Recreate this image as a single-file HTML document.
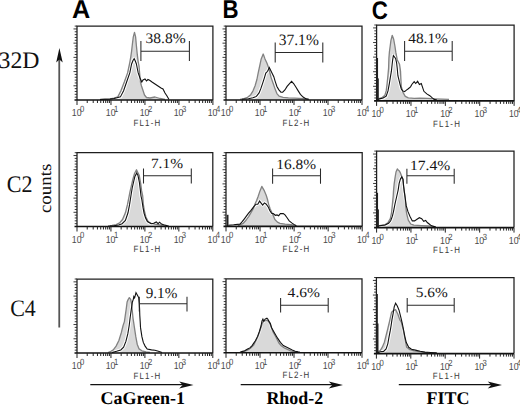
<!DOCTYPE html>
<html><head><meta charset="utf-8"><style>
html,body{margin:0;padding:0;background:#fff;width:520px;height:405px;overflow:hidden}
svg{display:block}
text{text-rendering:geometricPrecision}
.pct{font-family:"Liberation Serif",serif;fill:#151515}
.tl{font-family:"Liberation Sans",sans-serif;font-size:10.2px;fill:#4a4a4a}
.sup{font-size:9px}
.fl{font-family:"Liberation Sans",sans-serif;font-size:9.2px;fill:#3a3a3a;letter-spacing:1.42px}
.hd{font-family:"Liberation Sans",sans-serif;font-weight:bold;fill:#000}
.rl{font-family:"Liberation Serif",serif;fill:#111}
.bl{font-family:"Liberation Serif",serif;font-weight:bold;fill:#000}
</style></head><body>
<svg width="520" height="405" viewBox="0 0 520 405">
<text transform="translate(71.96,17.81) scale(0.976,1.000)" class="hd" style="font-size:25.87px">A</text>
<text transform="translate(222.43,17.81) scale(0.858,1.000)" class="hd" style="font-size:25.87px">B</text>
<text transform="translate(371.64,18.59) scale(0.877,1.000)" class="hd" style="font-size:25.42px">C</text>
<text transform="translate(-1.43,67.79) scale(1.025,1.019)" class="rl" style="font-size:23.22px">32D</text>
<text transform="translate(6.73,191.85) scale(0.927,0.998)" class="rl" style="font-size:23.81px">C2</text>
<text transform="translate(10.23,315.88) scale(0.922,0.990)" class="rl" style="font-size:23.81px">C4</text>
<text transform="translate(100.46,403.95) scale(1.004,1.000)" class="bl" style="font-size:17.90px">CaGreen-1</text>
<text transform="translate(266.42,403.95) scale(1.000,1.000)" class="bl" style="font-size:17.90px">Rhod-2</text>
<text transform="translate(426.58,403.95) scale(1.006,1.000)" class="bl" style="font-size:17.90px">FITC</text>
<text transform="translate(50.97,213.05) rotate(-90) scale(1.03,0.95)" class="rl" style="font-size:18.33px">counts</text>
<path d="M59.25 58V327.6" stroke="#555" stroke-width="1.8"/>
<path d="M59.4 48L56.2 62.5L59.4 59.6L62.7 62.5Z" fill="#111"/>
<path d="M90.3 384.6H188" stroke="#111" stroke-width="1.4"/>
<path d="M193.5 385L179.2 381.4L182.7 385L179.2 388.6Z" fill="#111"/>
<path d="M240.7 384.6H338" stroke="#111" stroke-width="1.4"/>
<path d="M343 385L328.7 381.4L332.2 385L328.7 388.6Z" fill="#111"/>
<path d="M398.8 384.6H497" stroke="#111" stroke-width="1.4"/>
<path d="M502 385L487.7 381.4L491.2 385L487.7 388.6Z" fill="#111"/>
<polygon points="100,100 100,99.5 110,99 114,98.2 117.8,96.9 120.9,90.7 124.4,81.8 127.6,72.9 129.5,64 130.7,57.3 131.6,51.1 132.4,44 133.3,36.9 134.5,32.4 135.6,36.9 136.4,45.8 137.3,54.7 138.2,61.8 139,66 139.6,72.9 140.4,81.8 141.5,86 143.1,90.7 144.5,95 146.5,97.5 150,98 155,97 160,98.5 165,99.5 165,100" fill="#d9d9d9" stroke="none"/>
<polyline points="100,99.5 110,99 114,98.5 117,97.8 120.4,96.9 123.6,90.7 126.7,81.8 129.8,72.9 131.6,64 133,60.5 134.2,58.7 135.3,61 136.4,64 137.3,68.5 138.2,72.9 140,78 141.8,82 143,80 145,79 146.5,81 148,79.5 150,80.5 152,82 155,84 158,86 161,88 163,89 165,93 167,96 169,99.5" fill="none" stroke="#fff" stroke-width="3.2" stroke-linejoin="round"/>
<polyline points="100,99.5 110,99 114,98.2 117.8,96.9 120.9,90.7 124.4,81.8 127.6,72.9 129.5,64 130.7,57.3 131.6,51.1 132.4,44 133.3,36.9 134.5,32.4 135.6,36.9 136.4,45.8 137.3,54.7 138.2,61.8 139,66 139.6,72.9 140.4,81.8 141.5,86 143.1,90.7 144.5,95 146.5,97.5 150,98 155,97 160,98.5 165,99.5" fill="none" stroke="#828282" stroke-width="1.3" stroke-linejoin="round"/>
<polyline points="100,99.5 110,99 114,98.5 117,97.8 120.4,96.9 123.6,90.7 126.7,81.8 129.8,72.9 131.6,64 133,60.5 134.2,58.7 135.3,61 136.4,64 137.3,68.5 138.2,72.9 140,78 141.8,82 143,80 145,79 146.5,81 148,79.5 150,80.5 152,82 155,84 158,86 161,88 163,89 165,93 167,96 169,99.5" fill="none" stroke="#111" stroke-width="1.1" stroke-linejoin="miter" stroke-miterlimit="3"/>
<path d="M140.9 41V61M140.9 51.2H189.4M189.4 41V61" stroke="#2a2a2a" stroke-width="1.05" fill="none"/>
<text transform="translate(145.46,43.03) scale(1.066,0.997)" class="pct" style="font-size:14.58px">38.8%</text>
<path d="M77 100V26.1H212.9V100" stroke="#1e1e1e" stroke-width="1.25" fill="none"/>
<path d="M74.5 100H212.9" stroke="#111" stroke-width="1.6" fill="none"/>
<path d="M77 100V105M87.23 100V103M93.21 100V103M97.45 100V103M100.75 100V103M103.44 100V103M105.71 100V103M107.68 100V103M109.42 100V103M110.97 100V105M121.2 100V103M127.19 100V103M131.43 100V103M134.72 100V103M137.41 100V103M139.69 100V103M141.66 100V103M143.4 100V103M144.95 100V105M155.18 100V103M161.16 100V103M165.4 100V103M168.7 100V103M171.39 100V103M173.66 100V103M175.63 100V103M177.37 100V103M178.93 100V105M189.15 100V103M195.14 100V103M199.38 100V103M202.67 100V103M205.36 100V103M207.64 100V103M209.61 100V103M211.35 100V103M212.9 100V105" stroke="#222" stroke-width="1" fill="none"/>
<path d="M74.7 97.16H77M74.7 94.32H77M74.7 91.47H77M74.7 88.63H77M73.5 85.79H77M74.7 82.95H77M74.7 80.1H77M74.7 77.26H77M74.7 74.42H77M73.5 71.58H77M74.7 68.73H77M74.7 65.89H77M74.7 63.05H77M74.7 60.21H77M73.5 57.37H77M74.7 54.52H77M74.7 51.68H77M74.7 48.84H77M74.7 46H77M73.5 43.15H77M74.7 40.31H77M74.7 37.47H77M74.7 34.63H77M74.7 31.78H77M73.5 28.94H77M74.7 26.1H77" stroke="#222" stroke-width="0.9" fill="none"/>
<text transform="translate(71.8,116.35) scale(0.86,1)" class="tl">10<tspan dx="-1.8" dy="-4.45" class="sup">0</tspan></text>
<text transform="translate(105.77,116.35) scale(0.86,1)" class="tl">10<tspan dx="-1.8" dy="-4.45" class="sup">1</tspan></text>
<text transform="translate(139.75,116.35) scale(0.86,1)" class="tl">10<tspan dx="-1.8" dy="-4.45" class="sup">2</tspan></text>
<text transform="translate(173.73,116.35) scale(0.86,1)" class="tl">10<tspan dx="-1.8" dy="-4.45" class="sup">3</tspan></text>
<text transform="translate(207.7,116.35) scale(0.86,1)" class="tl">10<tspan dx="-1.8" dy="-4.45" class="sup">4</tspan></text>
<text transform="translate(133.4,125.65) scale(0.86,1)" class="fl">FL1-H</text>
<polygon points="240,100 240,99.3 244,98.7 247.6,97.3 250.7,94.7 252.9,91.1 255.1,85.8 256.9,79.5 258.2,72.8 259.7,66 261.2,58.9 263.2,54 265,58.9 267,63.3 268.9,68.5 271.1,77.6 273.3,83.8 275.1,89.1 276.9,93.6 279.1,96.2 283.1,97.3 288.4,97.8 294.7,98.2 303.6,98.7 308,99.3 308,100" fill="#d9d9d9" stroke="none"/>
<polyline points="242,99.3 248.4,98.7 252.9,97.8 256.4,96.4 259.1,92.9 260.9,88.4 262.7,83.1 264.4,77.8 265.8,73 267.6,71.3 269.3,67.5 271.6,72.2 273.8,76.7 275.1,81.1 276.9,86.4 278.7,89.6 280.9,92.2 282.7,92.2 284.9,90 287.1,86.4 289.3,83.8 291.6,81.3 293.8,83.8 296,87.3 298.2,90.9 300.4,94.4 303.1,97.1 306.2,98.9 309,99.3" fill="none" stroke="#fff" stroke-width="3.2" stroke-linejoin="round"/>
<polyline points="240,99.3 244,98.7 247.6,97.3 250.7,94.7 252.9,91.1 255.1,85.8 256.9,79.5 258.2,72.8 259.7,66 261.2,58.9 263.2,54 265,58.9 267,63.3 268.9,68.5 271.1,77.6 273.3,83.8 275.1,89.1 276.9,93.6 279.1,96.2 283.1,97.3 288.4,97.8 294.7,98.2 303.6,98.7 308,99.3" fill="none" stroke="#828282" stroke-width="1.3" stroke-linejoin="round"/>
<polyline points="242,99.3 248.4,98.7 252.9,97.8 256.4,96.4 259.1,92.9 260.9,88.4 262.7,83.1 264.4,77.8 265.8,73 267.6,71.3 269.3,67.5 271.6,72.2 273.8,76.7 275.1,81.1 276.9,86.4 278.7,89.6 280.9,92.2 282.7,92.2 284.9,90 287.1,86.4 289.3,83.8 291.6,81.3 293.8,83.8 296,87.3 298.2,90.9 300.4,94.4 303.1,97.1 306.2,98.9 309,99.3" fill="none" stroke="#111" stroke-width="1.1" stroke-linejoin="miter" stroke-miterlimit="3"/>
<path d="M275.2 42.4V62.6M275.2 52.5H322.8M322.8 42.4V62.6" stroke="#2a2a2a" stroke-width="1.05" fill="none"/>
<text transform="translate(278.70,44.97) scale(1.025,1.045)" class="pct" style="font-size:15.16px">37.1%</text>
<path d="M226 100V26.1H362V100" stroke="#1e1e1e" stroke-width="1.25" fill="none"/>
<path d="M223.5 100H362" stroke="#111" stroke-width="1.6" fill="none"/>
<path d="M226 100V105M236.24 100V103M242.22 100V103M246.47 100V103M249.76 100V103M252.46 100V103M254.73 100V103M256.71 100V103M258.44 100V103M260 100V105M270.24 100V103M276.22 100V103M280.47 100V103M283.76 100V103M286.46 100V103M288.73 100V103M290.71 100V103M292.44 100V103M294 100V105M304.24 100V103M310.22 100V103M314.47 100V103M317.76 100V103M320.46 100V103M322.73 100V103M324.71 100V103M326.44 100V103M328 100V105M338.24 100V103M344.22 100V103M348.47 100V103M351.76 100V103M354.46 100V103M356.73 100V103M358.71 100V103M360.44 100V103M362 100V105" stroke="#222" stroke-width="1" fill="none"/>
<path d="M223.7 97.16H226M223.7 94.32H226M223.7 91.47H226M223.7 88.63H226M222.5 85.79H226M223.7 82.95H226M223.7 80.1H226M223.7 77.26H226M223.7 74.42H226M222.5 71.58H226M223.7 68.73H226M223.7 65.89H226M223.7 63.05H226M223.7 60.21H226M222.5 57.37H226M223.7 54.52H226M223.7 51.68H226M223.7 48.84H226M223.7 46H226M222.5 43.15H226M223.7 40.31H226M223.7 37.47H226M223.7 34.63H226M223.7 31.78H226M222.5 28.94H226M223.7 26.1H226" stroke="#222" stroke-width="0.9" fill="none"/>
<text transform="translate(220.8,116.35) scale(0.86,1)" class="tl">10<tspan dx="-1.8" dy="-4.45" class="sup">0</tspan></text>
<text transform="translate(254.8,116.35) scale(0.86,1)" class="tl">10<tspan dx="-1.8" dy="-4.45" class="sup">1</tspan></text>
<text transform="translate(288.8,116.35) scale(0.86,1)" class="tl">10<tspan dx="-1.8" dy="-4.45" class="sup">2</tspan></text>
<text transform="translate(322.8,116.35) scale(0.86,1)" class="tl">10<tspan dx="-1.8" dy="-4.45" class="sup">3</tspan></text>
<text transform="translate(356.8,116.35) scale(0.86,1)" class="tl">10<tspan dx="-1.8" dy="-4.45" class="sup">4</tspan></text>
<text transform="translate(282.4,125.65) scale(0.86,1)" class="fl">FL2-H</text>
<polygon points="376.8,100.9 376.8,99.5 379.6,98.4 382.2,97.6 384.9,95.3 386.2,90.9 387.1,83.8 388,74.9 388.6,68 388.9,58.4 389.4,52 390.2,46 390.9,40.7 392.2,35.3 393.6,38.9 394.9,46 395.8,52.2 397.2,59.7 399.5,64.2 400.5,71 400.9,79.4 401.3,86.8 403.1,92.7 405.3,96.4 408.3,97.9 414.2,98.3 420,98.2 428,98.4 434,98.8 442,99.2 449,99.4 449,100.9" fill="#d9d9d9" stroke="none"/>
<polyline points="378,99.5 379.6,98.9 383.1,98 386.2,96.2 388,90.9 389.3,83.8 390.3,77.6 391.4,71.2 392.1,64.8 392.7,59.7 393.4,55.5 395.6,58.4 396.6,62.9 397.2,68 397.9,75.7 399,80.1 400.1,84.6 401.3,89 402.7,90.9 404.6,91.6 406.4,90.1 408.3,88.7 410.5,86.8 412,84.2 414.2,81.6 415.7,83.5 417.6,81.3 419.4,84.6 421.3,83.5 422.4,86.8 423.9,91.3 426.8,93.9 429.8,95.7 432,97.6 434.2,99.4 437,100" fill="none" stroke="#fff" stroke-width="3.2" stroke-linejoin="round"/>
<polyline points="376.8,99.5 379.6,98.4 382.2,97.6 384.9,95.3 386.2,90.9 387.1,83.8 388,74.9 388.6,68 388.9,58.4 389.4,52 390.2,46 390.9,40.7 392.2,35.3 393.6,38.9 394.9,46 395.8,52.2 397.2,59.7 399.5,64.2 400.5,71 400.9,79.4 401.3,86.8 403.1,92.7 405.3,96.4 408.3,97.9 414.2,98.3 420,98.2 428,98.4 434,98.8 442,99.2 449,99.4" fill="none" stroke="#828282" stroke-width="1.3" stroke-linejoin="round"/>
<polyline points="378,99.5 379.6,98.9 383.1,98 386.2,96.2 388,90.9 389.3,83.8 390.3,77.6 391.4,71.2 392.1,64.8 392.7,59.7 393.4,55.5 395.6,58.4 396.6,62.9 397.2,68 397.9,75.7 399,80.1 400.1,84.6 401.3,89 402.7,90.9 404.6,91.6 406.4,90.1 408.3,88.7 410.5,86.8 412,84.2 414.2,81.6 415.7,83.5 417.6,81.3 419.4,84.6 421.3,83.5 422.4,86.8 423.9,91.3 426.8,93.9 429.8,95.7 432,97.6 434.2,99.4 437,100" fill="none" stroke="#111" stroke-width="1.1" stroke-linejoin="miter" stroke-miterlimit="3"/>
<path d="M377.4 58V100.9" stroke="#222" stroke-width="1.3"/>
<path d="M377.8 78.4V100.9" stroke="#222" stroke-width="2.0"/>
<path d="M404.6 41V61.1M404.6 51.2H452.2M452.2 41V61.1" stroke="#2a2a2a" stroke-width="1.05" fill="none"/>
<text transform="translate(408.29,42.88) scale(1.108,1.043)" class="pct" style="font-size:13.84px">48.1%</text>
<path d="M376.6 100.9V25H514.1V100.9" stroke="#1e1e1e" stroke-width="1.25" fill="none"/>
<path d="M374.1 100.9H514.1" stroke="#111" stroke-width="1.6" fill="none"/>
<path d="M376.6 100.9V105.9M386.95 100.9V103.9M393 100.9V103.9M397.3 100.9V103.9M400.63 100.9V103.9M403.35 100.9V103.9M405.65 100.9V103.9M407.64 100.9V103.9M409.4 100.9V103.9M410.98 100.9V105.9M421.32 100.9V103.9M427.38 100.9V103.9M431.67 100.9V103.9M435 100.9V103.9M437.72 100.9V103.9M440.03 100.9V103.9M442.02 100.9V103.9M443.78 100.9V103.9M445.35 100.9V105.9M455.7 100.9V103.9M461.75 100.9V103.9M466.05 100.9V103.9M469.38 100.9V103.9M472.1 100.9V103.9M474.4 100.9V103.9M476.39 100.9V103.9M478.15 100.9V103.9M479.73 100.9V105.9M490.07 100.9V103.9M496.13 100.9V103.9M500.42 100.9V103.9M503.75 100.9V103.9M506.47 100.9V103.9M508.78 100.9V103.9M510.77 100.9V103.9M512.53 100.9V103.9M514.1 100.9V105.9" stroke="#222" stroke-width="1" fill="none"/>
<path d="M374.3 97.98H376.6M374.3 95.06H376.6M374.3 92.14H376.6M374.3 89.22H376.6M373.1 86.3H376.6M374.3 83.38H376.6M374.3 80.47H376.6M374.3 77.55H376.6M374.3 74.63H376.6M373.1 71.71H376.6M374.3 68.79H376.6M374.3 65.87H376.6M374.3 62.95H376.6M374.3 60.03H376.6M373.1 57.11H376.6M374.3 54.19H376.6M374.3 51.27H376.6M374.3 48.35H376.6M374.3 45.43H376.6M373.1 42.52H376.6M374.3 39.6H376.6M374.3 36.68H376.6M374.3 33.76H376.6M374.3 30.84H376.6M373.1 27.92H376.6M374.3 25H376.6" stroke="#222" stroke-width="0.9" fill="none"/>
<text transform="translate(371.4,117.25) scale(0.86,1)" class="tl">10<tspan dx="-1.8" dy="-4.45" class="sup">0</tspan></text>
<text transform="translate(405.78,117.25) scale(0.86,1)" class="tl">10<tspan dx="-1.8" dy="-4.45" class="sup">1</tspan></text>
<text transform="translate(440.15,117.25) scale(0.86,1)" class="tl">10<tspan dx="-1.8" dy="-4.45" class="sup">2</tspan></text>
<text transform="translate(474.53,117.25) scale(0.86,1)" class="tl">10<tspan dx="-1.8" dy="-4.45" class="sup">3</tspan></text>
<text transform="translate(508.9,117.25) scale(0.86,1)" class="tl">10<tspan dx="-1.8" dy="-4.45" class="sup">4</tspan></text>
<text transform="translate(433,126.55) scale(0.86,1)" class="fl">FL1-H</text>
<polygon points="108,226.5 108,226 112,225.5 116.2,224.6 119.6,222.9 122.5,219.5 125.4,212.8 127.5,204.4 129.2,196 130,191.6 131.3,186.2 132.7,180 134.4,173.8 136.5,169.8 138.3,173.5 139.3,175.6 140.7,183.6 141.6,190.7 142.7,196 143.3,204 144.4,211 145.9,217 148.1,221.5 151.1,223.3 155,224.2 160,225 165,225.8 165,226.5" fill="#d9d9d9" stroke="none"/>
<polyline points="110,226 114,225.7 118.7,225 122.1,223.7 125.4,220.4 128,212.8 129.6,204.4 130.9,196 132.2,188 133.6,181.8 134.9,176.4 136.7,172.9 138,175.6 139.3,181.8 140.2,188.9 141,196 141.9,200 143,207.4 144.1,213.3 145.6,218.1 147.4,221.5 151.1,223.7 153.7,223.3 156.3,221.9 158.1,223.7 159.6,222.2 161.5,224.1 163.7,224.8 166.7,225.6 169,226.2" fill="none" stroke="#fff" stroke-width="3.2" stroke-linejoin="round"/>
<polyline points="108,226 112,225.5 116.2,224.6 119.6,222.9 122.5,219.5 125.4,212.8 127.5,204.4 129.2,196 130,191.6 131.3,186.2 132.7,180 134.4,173.8 136.5,169.8 138.3,173.5 139.3,175.6 140.7,183.6 141.6,190.7 142.7,196 143.3,204 144.4,211 145.9,217 148.1,221.5 151.1,223.3 155,224.2 160,225 165,225.8" fill="none" stroke="#828282" stroke-width="1.3" stroke-linejoin="round"/>
<polyline points="110,226 114,225.7 118.7,225 122.1,223.7 125.4,220.4 128,212.8 129.6,204.4 130.9,196 132.2,188 133.6,181.8 134.9,176.4 136.7,172.9 138,175.6 139.3,181.8 140.2,188.9 141,196 141.9,200 143,207.4 144.1,213.3 145.6,218.1 147.4,221.5 151.1,223.7 153.7,223.3 156.3,221.9 158.1,223.7 159.6,222.2 161.5,224.1 163.7,224.8 166.7,225.6 169,226.2" fill="none" stroke="#111" stroke-width="1.1" stroke-linejoin="miter" stroke-miterlimit="3"/>
<path d="M143.5 168.6V183.4M143.5 175.8H191.3M191.3 168.6V183.4" stroke="#2a2a2a" stroke-width="1.05" fill="none"/>
<text transform="translate(150.90,168.43) scale(1.101,1.008)" class="pct" style="font-size:13.99px">7.1%</text>
<path d="M77 226.5V152.7H212.8V226.5" stroke="#1e1e1e" stroke-width="1.25" fill="none"/>
<path d="M74.5 226.5H212.8" stroke="#111" stroke-width="1.6" fill="none"/>
<path d="M77 226.5V231.5M87.22 226.5V229.5M93.2 226.5V229.5M97.44 226.5V229.5M100.73 226.5V229.5M103.42 226.5V229.5M105.69 226.5V229.5M107.66 226.5V229.5M109.4 226.5V229.5M110.95 226.5V231.5M121.17 226.5V229.5M127.15 226.5V229.5M131.39 226.5V229.5M134.68 226.5V229.5M137.37 226.5V229.5M139.64 226.5V229.5M141.61 226.5V229.5M143.35 226.5V229.5M144.9 226.5V231.5M155.12 226.5V229.5M161.1 226.5V229.5M165.34 226.5V229.5M168.63 226.5V229.5M171.32 226.5V229.5M173.59 226.5V229.5M175.56 226.5V229.5M177.3 226.5V229.5M178.85 226.5V231.5M189.07 226.5V229.5M195.05 226.5V229.5M199.29 226.5V229.5M202.58 226.5V229.5M205.27 226.5V229.5M207.54 226.5V229.5M209.51 226.5V229.5M211.25 226.5V229.5M212.8 226.5V231.5" stroke="#222" stroke-width="1" fill="none"/>
<path d="M74.7 223.66H77M74.7 220.82H77M74.7 217.98H77M74.7 215.15H77M73.5 212.31H77M74.7 209.47H77M74.7 206.63H77M74.7 203.79H77M74.7 200.95H77M73.5 198.12H77M74.7 195.28H77M74.7 192.44H77M74.7 189.6H77M74.7 186.76H77M73.5 183.92H77M74.7 181.08H77M74.7 178.25H77M74.7 175.41H77M74.7 172.57H77M73.5 169.73H77M74.7 166.89H77M74.7 164.05H77M74.7 161.22H77M74.7 158.38H77M73.5 155.54H77M74.7 152.7H77" stroke="#222" stroke-width="0.9" fill="none"/>
<text transform="translate(71.8,242.85) scale(0.86,1)" class="tl">10<tspan dx="-1.8" dy="-4.45" class="sup">0</tspan></text>
<text transform="translate(105.75,242.85) scale(0.86,1)" class="tl">10<tspan dx="-1.8" dy="-4.45" class="sup">1</tspan></text>
<text transform="translate(139.7,242.85) scale(0.86,1)" class="tl">10<tspan dx="-1.8" dy="-4.45" class="sup">2</tspan></text>
<text transform="translate(173.65,242.85) scale(0.86,1)" class="tl">10<tspan dx="-1.8" dy="-4.45" class="sup">3</tspan></text>
<text transform="translate(207.6,242.85) scale(0.86,1)" class="tl">10<tspan dx="-1.8" dy="-4.45" class="sup">4</tspan></text>
<text transform="translate(133.4,252.15) scale(0.86,1)" class="fl">FL1-H</text>
<polygon points="238,226.4 238,225.6 241,224.4 243.3,223.3 246.2,220 248.8,216.3 251,212.6 253.6,208.1 255.1,203.7 256.6,200.5 258.2,196.2 260,190.9 261.8,186.4 264.4,190.9 266.2,195.3 267.6,199.8 268.6,204.2 270.2,209 272.8,214.5 274.9,219.5 277.4,222.1 280,223.3 285,224.2 290.9,224.6 296,225.4 296,226.4" fill="#d9d9d9" stroke="none"/>
<polyline points="228.4,225.2 233.6,224.8 239.9,224.1 241.8,222.2 244,219.3 246.2,216.3 248.4,213.3 251,210.4 253.8,206.6 256,204.2 257.8,204.2 259.6,201.1 261.3,203.3 262.7,205.1 264.4,202.9 266.3,204.2 268.2,206.9 269.9,210.7 271.6,213.2 273.2,213.6 275.3,215.3 277,214.9 278.7,215.7 280.4,213.5 283.3,213.6 285,214.9 287.1,217.8 289.2,220.8 291.7,222.9 294.3,224.6 296.5,225.9" fill="none" stroke="#fff" stroke-width="3.2" stroke-linejoin="round"/>
<polyline points="238,225.6 241,224.4 243.3,223.3 246.2,220 248.8,216.3 251,212.6 253.6,208.1 255.1,203.7 256.6,200.5 258.2,196.2 260,190.9 261.8,186.4 264.4,190.9 266.2,195.3 267.6,199.8 268.6,204.2 270.2,209 272.8,214.5 274.9,219.5 277.4,222.1 280,223.3 285,224.2 290.9,224.6 296,225.4" fill="none" stroke="#828282" stroke-width="1.3" stroke-linejoin="round"/>
<polyline points="228.4,225.2 233.6,224.8 239.9,224.1 241.8,222.2 244,219.3 246.2,216.3 248.4,213.3 251,210.4 253.8,206.6 256,204.2 257.8,204.2 259.6,201.1 261.3,203.3 262.7,205.1 264.4,202.9 266.3,204.2 268.2,206.9 269.9,210.7 271.6,213.2 273.2,213.6 275.3,215.3 277,214.9 278.7,215.7 280.4,213.5 283.3,213.6 285,214.9 287.1,217.8 289.2,220.8 291.7,222.9 294.3,224.6 296.5,225.9" fill="none" stroke="#111" stroke-width="1.1" stroke-linejoin="miter" stroke-miterlimit="3"/>
<path d="M227.6 214.8V226.4" stroke="#222" stroke-width="1.8"/>
<path d="M272.6 168.6V183.8M272.6 175.8H320.5M320.5 168.6V183.8" stroke="#2a2a2a" stroke-width="1.05" fill="none"/>
<text transform="translate(276.37,169.03) scale(1.101,1.014)" class="pct" style="font-size:13.99px">16.8%</text>
<path d="M226 226.4V152.7H362.2V226.4" stroke="#1e1e1e" stroke-width="1.25" fill="none"/>
<path d="M223.5 226.4H362.2" stroke="#111" stroke-width="1.6" fill="none"/>
<path d="M226 226.4V231.4M236.25 226.4V229.4M242.25 226.4V229.4M246.5 226.4V229.4M249.8 226.4V229.4M252.5 226.4V229.4M254.78 226.4V229.4M256.75 226.4V229.4M258.49 226.4V229.4M260.05 226.4V231.4M270.3 226.4V229.4M276.3 226.4V229.4M280.55 226.4V229.4M283.85 226.4V229.4M286.55 226.4V229.4M288.83 226.4V229.4M290.8 226.4V229.4M292.54 226.4V229.4M294.1 226.4V231.4M304.35 226.4V229.4M310.35 226.4V229.4M314.6 226.4V229.4M317.9 226.4V229.4M320.6 226.4V229.4M322.88 226.4V229.4M324.85 226.4V229.4M326.59 226.4V229.4M328.15 226.4V231.4M338.4 226.4V229.4M344.4 226.4V229.4M348.65 226.4V229.4M351.95 226.4V229.4M354.65 226.4V229.4M356.93 226.4V229.4M358.9 226.4V229.4M360.64 226.4V229.4M362.2 226.4V231.4" stroke="#222" stroke-width="1" fill="none"/>
<path d="M223.7 223.57H226M223.7 220.73H226M223.7 217.9H226M223.7 215.06H226M222.5 212.23H226M223.7 209.39H226M223.7 206.56H226M223.7 203.72H226M223.7 200.89H226M222.5 198.05H226M223.7 195.22H226M223.7 192.38H226M223.7 189.55H226M223.7 186.72H226M222.5 183.88H226M223.7 181.05H226M223.7 178.21H226M223.7 175.38H226M223.7 172.54H226M222.5 169.71H226M223.7 166.87H226M223.7 164.04H226M223.7 161.2H226M223.7 158.37H226M222.5 155.53H226M223.7 152.7H226" stroke="#222" stroke-width="0.9" fill="none"/>
<text transform="translate(220.8,242.75) scale(0.86,1)" class="tl">10<tspan dx="-1.8" dy="-4.45" class="sup">0</tspan></text>
<text transform="translate(254.85,242.75) scale(0.86,1)" class="tl">10<tspan dx="-1.8" dy="-4.45" class="sup">1</tspan></text>
<text transform="translate(288.9,242.75) scale(0.86,1)" class="tl">10<tspan dx="-1.8" dy="-4.45" class="sup">2</tspan></text>
<text transform="translate(322.95,242.75) scale(0.86,1)" class="tl">10<tspan dx="-1.8" dy="-4.45" class="sup">3</tspan></text>
<text transform="translate(357,242.75) scale(0.86,1)" class="tl">10<tspan dx="-1.8" dy="-4.45" class="sup">4</tspan></text>
<text transform="translate(282.4,252.05) scale(0.86,1)" class="fl">FL2-H</text>
<polygon points="377.5,227.6 377.5,226.5 379.4,225.6 384.4,225 387.8,222.9 390.3,218.7 391.5,212.8 392.4,204.4 393.2,196 393.5,191 394.2,183.6 395.1,177.3 396,172 397.3,168.9 398.2,170 399.1,170.7 400.4,172.9 401.8,176.4 402.7,180 403.6,186.2 404.4,192.4 405.2,198 405.6,205.9 406.7,213.8 408.3,220.1 410.7,224 413.8,225.2 421.7,225.6 429.6,226 434,226.5 434,227.6" fill="#d9d9d9" stroke="none"/>
<polyline points="377.5,226.6 379.4,225.8 385.2,225 388.6,223.3 390.7,220.8 392.4,216.2 393.6,211.1 394.9,204.4 396.8,196 398.2,189.8 399.1,183.6 400.4,179.1 401.8,176.9 403.1,179.1 403.6,186.2 404.4,192.4 405.2,198 406.3,205.9 407.9,211.4 409.9,216.2 412.3,220.9 414.6,220.9 417,219.3 419.4,217.7 421.7,218.7 423.7,221.3 425.7,220.5 427.3,222.5 429.2,224 431.2,225.6 433.6,226.4 436,227" fill="none" stroke="#fff" stroke-width="3.2" stroke-linejoin="round"/>
<polyline points="377.5,226.5 379.4,225.6 384.4,225 387.8,222.9 390.3,218.7 391.5,212.8 392.4,204.4 393.2,196 393.5,191 394.2,183.6 395.1,177.3 396,172 397.3,168.9 398.2,170 399.1,170.7 400.4,172.9 401.8,176.4 402.7,180 403.6,186.2 404.4,192.4 405.2,198 405.6,205.9 406.7,213.8 408.3,220.1 410.7,224 413.8,225.2 421.7,225.6 429.6,226 434,226.5" fill="none" stroke="#828282" stroke-width="1.3" stroke-linejoin="round"/>
<polyline points="377.5,226.6 379.4,225.8 385.2,225 388.6,223.3 390.7,220.8 392.4,216.2 393.6,211.1 394.9,204.4 396.8,196 398.2,189.8 399.1,183.6 400.4,179.1 401.8,176.9 403.1,179.1 403.6,186.2 404.4,192.4 405.2,198 406.3,205.9 407.9,211.4 409.9,216.2 412.3,220.9 414.6,220.9 417,219.3 419.4,217.7 421.7,218.7 423.7,221.3 425.7,220.5 427.3,222.5 429.2,224 431.2,225.6 433.6,226.4 436,227" fill="none" stroke="#111" stroke-width="1.1" stroke-linejoin="miter" stroke-miterlimit="3"/>
<path d="M377.4 192.8V227.6" stroke="#222" stroke-width="1.3"/>
<path d="M377.9 209.4V227.6" stroke="#222" stroke-width="2.0"/>
<path d="M406.9 168.7V183.7M406.9 175.8H454.2M454.2 168.7V183.7" stroke="#2a2a2a" stroke-width="1.05" fill="none"/>
<text transform="translate(409.91,170.39) scale(1.114,1.000)" class="pct" style="font-size:13.99px">17.4%</text>
<path d="M376.6 227.6V151.1H514V227.6" stroke="#1e1e1e" stroke-width="1.25" fill="none"/>
<path d="M374.1 227.6H514" stroke="#111" stroke-width="1.6" fill="none"/>
<path d="M376.6 227.6V232.6M386.94 227.6V230.6M392.99 227.6V230.6M397.28 227.6V230.6M400.61 227.6V230.6M403.33 227.6V230.6M405.63 227.6V230.6M407.62 227.6V230.6M409.38 227.6V230.6M410.95 227.6V232.6M421.29 227.6V230.6M427.34 227.6V230.6M431.63 227.6V230.6M434.96 227.6V230.6M437.68 227.6V230.6M439.98 227.6V230.6M441.97 227.6V230.6M443.73 227.6V230.6M445.3 227.6V232.6M455.64 227.6V230.6M461.69 227.6V230.6M465.98 227.6V230.6M469.31 227.6V230.6M472.03 227.6V230.6M474.33 227.6V230.6M476.32 227.6V230.6M478.08 227.6V230.6M479.65 227.6V232.6M489.99 227.6V230.6M496.04 227.6V230.6M500.33 227.6V230.6M503.66 227.6V230.6M506.38 227.6V230.6M508.68 227.6V230.6M510.67 227.6V230.6M512.43 227.6V230.6M514 227.6V232.6" stroke="#222" stroke-width="1" fill="none"/>
<path d="M374.3 224.66H376.6M374.3 221.72H376.6M374.3 218.77H376.6M374.3 215.83H376.6M373.1 212.89H376.6M374.3 209.95H376.6M374.3 207H376.6M374.3 204.06H376.6M374.3 201.12H376.6M373.1 198.18H376.6M374.3 195.23H376.6M374.3 192.29H376.6M374.3 189.35H376.6M374.3 186.41H376.6M373.1 183.47H376.6M374.3 180.52H376.6M374.3 177.58H376.6M374.3 174.64H376.6M374.3 171.7H376.6M373.1 168.75H376.6M374.3 165.81H376.6M374.3 162.87H376.6M374.3 159.93H376.6M374.3 156.98H376.6M373.1 154.04H376.6M374.3 151.1H376.6" stroke="#222" stroke-width="0.9" fill="none"/>
<text transform="translate(371.4,243.95) scale(0.86,1)" class="tl">10<tspan dx="-1.8" dy="-4.45" class="sup">0</tspan></text>
<text transform="translate(405.75,243.95) scale(0.86,1)" class="tl">10<tspan dx="-1.8" dy="-4.45" class="sup">1</tspan></text>
<text transform="translate(440.1,243.95) scale(0.86,1)" class="tl">10<tspan dx="-1.8" dy="-4.45" class="sup">2</tspan></text>
<text transform="translate(474.45,243.95) scale(0.86,1)" class="tl">10<tspan dx="-1.8" dy="-4.45" class="sup">3</tspan></text>
<text transform="translate(508.8,243.95) scale(0.86,1)" class="tl">10<tspan dx="-1.8" dy="-4.45" class="sup">4</tspan></text>
<text transform="translate(433,253.25) scale(0.86,1)" class="fl">FL1-H</text>
<polygon points="108,353 108,352.5 110.9,351.3 113.3,349.9 116.1,346.1 118.9,340.5 121.2,333 123.1,325.5 124.4,321.6 125.3,315.3 126.2,309.1 127.1,302 128,299.8 129.3,297.6 130.7,299.3 131.6,303.8 132.2,310 133,318 134.4,327.4 135.8,336.7 137.2,344.2 139.1,348.9 141.9,350.8 146,351.8 150,352.5 150,353" fill="#d9d9d9" stroke="none"/>
<polyline points="112,352.6 116.6,351.3 120.8,349.9 123.6,347.1 125.9,341.4 127.8,333.9 129.2,325.5 130.1,318 131.2,310 132.4,302 133.3,299.3 133.8,296.5 134.6,297.8 136,292.7 137.3,294.9 138.7,297.6 139.3,303.8 139.6,309.1 139.8,315.3 140.2,321.6 140.5,327.4 141.9,336.7 143.3,342.4 145.1,346.1 147.2,349.1 151.5,349.9 154.9,350.3 158.4,351.3 162,352.5" fill="none" stroke="#fff" stroke-width="3.2" stroke-linejoin="round"/>
<polyline points="108,352.5 110.9,351.3 113.3,349.9 116.1,346.1 118.9,340.5 121.2,333 123.1,325.5 124.4,321.6 125.3,315.3 126.2,309.1 127.1,302 128,299.8 129.3,297.6 130.7,299.3 131.6,303.8 132.2,310 133,318 134.4,327.4 135.8,336.7 137.2,344.2 139.1,348.9 141.9,350.8 146,351.8 150,352.5" fill="none" stroke="#828282" stroke-width="1.3" stroke-linejoin="round"/>
<polyline points="112,352.6 116.6,351.3 120.8,349.9 123.6,347.1 125.9,341.4 127.8,333.9 129.2,325.5 130.1,318 131.2,310 132.4,302 133.3,299.3 133.8,296.5 134.6,297.8 136,292.7 137.3,294.9 138.7,297.6 139.3,303.8 139.6,309.1 139.8,315.3 140.2,321.6 140.5,327.4 141.9,336.7 143.3,342.4 145.1,346.1 147.2,349.1 151.5,349.9 154.9,350.3 158.4,351.3 162,352.5" fill="none" stroke="#111" stroke-width="1.1" stroke-linejoin="miter" stroke-miterlimit="3"/>
<path d="M139.3 296.8V311.4M139.3 303.8H187M187 296.8V311.4" stroke="#2a2a2a" stroke-width="1.05" fill="none"/>
<text transform="translate(145.77,298.23) scale(1.018,1.021)" class="pct" style="font-size:14.87px">9.1%</text>
<path d="M77 353V279H212.8V353" stroke="#1e1e1e" stroke-width="1.25" fill="none"/>
<path d="M74.5 353H212.8" stroke="#111" stroke-width="1.6" fill="none"/>
<path d="M77 353V358M87.22 353V356M93.2 353V356M97.44 353V356M100.73 353V356M103.42 353V356M105.69 353V356M107.66 353V356M109.4 353V356M110.95 353V358M121.17 353V356M127.15 353V356M131.39 353V356M134.68 353V356M137.37 353V356M139.64 353V356M141.61 353V356M143.35 353V356M144.9 353V358M155.12 353V356M161.1 353V356M165.34 353V356M168.63 353V356M171.32 353V356M173.59 353V356M175.56 353V356M177.3 353V356M178.85 353V358M189.07 353V356M195.05 353V356M199.29 353V356M202.58 353V356M205.27 353V356M207.54 353V356M209.51 353V356M211.25 353V356M212.8 353V358" stroke="#222" stroke-width="1" fill="none"/>
<path d="M74.7 350.15H77M74.7 347.31H77M74.7 344.46H77M74.7 341.62H77M73.5 338.77H77M74.7 335.92H77M74.7 333.08H77M74.7 330.23H77M74.7 327.38H77M73.5 324.54H77M74.7 321.69H77M74.7 318.85H77M74.7 316H77M74.7 313.15H77M73.5 310.31H77M74.7 307.46H77M74.7 304.62H77M74.7 301.77H77M74.7 298.92H77M73.5 296.08H77M74.7 293.23H77M74.7 290.38H77M74.7 287.54H77M74.7 284.69H77M73.5 281.85H77M74.7 279H77" stroke="#222" stroke-width="0.9" fill="none"/>
<text transform="translate(71.8,369.35) scale(0.86,1)" class="tl">10<tspan dx="-1.8" dy="-4.45" class="sup">0</tspan></text>
<text transform="translate(105.75,369.35) scale(0.86,1)" class="tl">10<tspan dx="-1.8" dy="-4.45" class="sup">1</tspan></text>
<text transform="translate(139.7,369.35) scale(0.86,1)" class="tl">10<tspan dx="-1.8" dy="-4.45" class="sup">2</tspan></text>
<text transform="translate(173.65,369.35) scale(0.86,1)" class="tl">10<tspan dx="-1.8" dy="-4.45" class="sup">3</tspan></text>
<text transform="translate(207.6,369.35) scale(0.86,1)" class="tl">10<tspan dx="-1.8" dy="-4.45" class="sup">4</tspan></text>
<text transform="translate(133.4,378.65) scale(0.86,1)" class="fl">FL1-H</text>
<polygon points="242,352.8 242,352.2 245.4,351.2 248.4,349.7 250.6,348.2 253.6,345.3 255.6,341.5 257.8,336.8 259.7,331.6 261.3,326.5 262.6,322.5 264,320.8 265.6,320.6 267,320.2 268.5,321.5 270.2,324.5 273,331.9 275.5,336.5 278.9,343 281.5,346 284.8,348.2 290.7,350.8 295.2,351.8 298,352.3 298,352.8" fill="#d9d9d9" stroke="none"/>
<polyline points="240,352.2 241.7,351.6 244.7,350.8 247.6,349 249.9,347.9 252.1,345.6 253.6,343.4 255.4,340.8 257.6,336.4 259.5,331.2 261,326 262,320.9 262.9,319.1 263.8,321.3 265.1,319.1 266.9,318.2 267.8,319.1 268.7,320.9 270.4,323.6 271.5,327.5 274.4,332.7 277.4,337.9 280.4,342.3 283.3,345.6 286.3,347.1 289.3,348.6 292.2,350.1 295.2,351.2 298.1,351.9 300,352.3" fill="none" stroke="#fff" stroke-width="3.2" stroke-linejoin="round"/>
<polyline points="242,352.2 245.4,351.2 248.4,349.7 250.6,348.2 253.6,345.3 255.6,341.5 257.8,336.8 259.7,331.6 261.3,326.5 262.6,322.5 264,320.8 265.6,320.6 267,320.2 268.5,321.5 270.2,324.5 273,331.9 275.5,336.5 278.9,343 281.5,346 284.8,348.2 290.7,350.8 295.2,351.8 298,352.3" fill="none" stroke="#828282" stroke-width="1.3" stroke-linejoin="round"/>
<polyline points="240,352.2 241.7,351.6 244.7,350.8 247.6,349 249.9,347.9 252.1,345.6 253.6,343.4 255.4,340.8 257.6,336.4 259.5,331.2 261,326 262,320.9 262.9,319.1 263.8,321.3 265.1,319.1 266.9,318.2 267.8,319.1 268.7,320.9 270.4,323.6 271.5,327.5 274.4,332.7 277.4,337.9 280.4,342.3 283.3,345.6 286.3,347.1 289.3,348.6 292.2,350.1 295.2,351.2 298.1,351.9 300,352.3" fill="none" stroke="#111" stroke-width="1.1" stroke-linejoin="miter" stroke-miterlimit="3"/>
<path d="M280.6 298V312.4M280.6 305.3H328.2M328.2 298V312.4" stroke="#2a2a2a" stroke-width="1.05" fill="none"/>
<text transform="translate(287.62,297.06) scale(1.185,1.048)" class="pct" style="font-size:13.10px">4.6%</text>
<path d="M226 352.8V278.8H362V352.8" stroke="#1e1e1e" stroke-width="1.25" fill="none"/>
<path d="M223.5 352.8H362" stroke="#111" stroke-width="1.6" fill="none"/>
<path d="M226 352.8V357.8M236.24 352.8V355.8M242.22 352.8V355.8M246.47 352.8V355.8M249.76 352.8V355.8M252.46 352.8V355.8M254.73 352.8V355.8M256.71 352.8V355.8M258.44 352.8V355.8M260 352.8V357.8M270.24 352.8V355.8M276.22 352.8V355.8M280.47 352.8V355.8M283.76 352.8V355.8M286.46 352.8V355.8M288.73 352.8V355.8M290.71 352.8V355.8M292.44 352.8V355.8M294 352.8V357.8M304.24 352.8V355.8M310.22 352.8V355.8M314.47 352.8V355.8M317.76 352.8V355.8M320.46 352.8V355.8M322.73 352.8V355.8M324.71 352.8V355.8M326.44 352.8V355.8M328 352.8V357.8M338.24 352.8V355.8M344.22 352.8V355.8M348.47 352.8V355.8M351.76 352.8V355.8M354.46 352.8V355.8M356.73 352.8V355.8M358.71 352.8V355.8M360.44 352.8V355.8M362 352.8V357.8" stroke="#222" stroke-width="1" fill="none"/>
<path d="M223.7 349.95H226M223.7 347.11H226M223.7 344.26H226M223.7 341.42H226M222.5 338.57H226M223.7 335.72H226M223.7 332.88H226M223.7 330.03H226M223.7 327.18H226M222.5 324.34H226M223.7 321.49H226M223.7 318.65H226M223.7 315.8H226M223.7 312.95H226M222.5 310.11H226M223.7 307.26H226M223.7 304.42H226M223.7 301.57H226M223.7 298.72H226M222.5 295.88H226M223.7 293.03H226M223.7 290.18H226M223.7 287.34H226M223.7 284.49H226M222.5 281.65H226M223.7 278.8H226" stroke="#222" stroke-width="0.9" fill="none"/>
<text transform="translate(220.8,369.15) scale(0.86,1)" class="tl">10<tspan dx="-1.8" dy="-4.45" class="sup">0</tspan></text>
<text transform="translate(254.8,369.15) scale(0.86,1)" class="tl">10<tspan dx="-1.8" dy="-4.45" class="sup">1</tspan></text>
<text transform="translate(288.8,369.15) scale(0.86,1)" class="tl">10<tspan dx="-1.8" dy="-4.45" class="sup">2</tspan></text>
<text transform="translate(322.8,369.15) scale(0.86,1)" class="tl">10<tspan dx="-1.8" dy="-4.45" class="sup">3</tspan></text>
<text transform="translate(356.8,369.15) scale(0.86,1)" class="tl">10<tspan dx="-1.8" dy="-4.45" class="sup">4</tspan></text>
<text transform="translate(282.4,378.45) scale(0.86,1)" class="fl">FL2-H</text>
<polygon points="377.5,353.6 377.5,352.5 378.5,351.4 380.2,350.6 382.3,347.2 384.4,342.2 386.1,335.4 387.8,328.7 389.4,322 390.2,318.4 391.6,312.2 393.5,310.5 395.6,309.6 397.8,314 400,320.2 401.2,322 403.3,330 404.4,336 405.5,341.8 406.7,347.3 409.9,349.7 413.9,350.9 421.8,352.1 428,352.8 428,353.6" fill="#d9d9d9" stroke="none"/>
<polyline points="378,352.8 380.2,351.8 383.6,351.4 386.1,348.9 387.8,343.8 389,337.1 390.3,330.4 391.2,325 392,319.3 393.2,313.1 394.2,306.9 395.6,303.3 397.3,306 399.1,310.4 400.9,317.6 402.2,323 403.6,330 404.8,336.3 406.3,342.6 408.7,347.3 411.5,349.3 415.4,350.1 420.2,351.3 424.9,352.1 430.5,352.5 436.8,352.9" fill="none" stroke="#fff" stroke-width="3.2" stroke-linejoin="round"/>
<polyline points="377.5,352.5 378.5,351.4 380.2,350.6 382.3,347.2 384.4,342.2 386.1,335.4 387.8,328.7 389.4,322 390.2,318.4 391.6,312.2 393.5,310.5 395.6,309.6 397.8,314 400,320.2 401.2,322 403.3,330 404.4,336 405.5,341.8 406.7,347.3 409.9,349.7 413.9,350.9 421.8,352.1 428,352.8" fill="none" stroke="#828282" stroke-width="1.3" stroke-linejoin="round"/>
<polyline points="378,352.8 380.2,351.8 383.6,351.4 386.1,348.9 387.8,343.8 389,337.1 390.3,330.4 391.2,325 392,319.3 393.2,313.1 394.2,306.9 395.6,303.3 397.3,306 399.1,310.4 400.9,317.6 402.2,323 403.6,330 404.8,336.3 406.3,342.6 408.7,347.3 411.5,349.3 415.4,350.1 420.2,351.3 424.9,352.1 430.5,352.5 436.8,352.9" fill="none" stroke="#111" stroke-width="1.1" stroke-linejoin="miter" stroke-miterlimit="3"/>
<path d="M377.2 294V353.6" stroke="#222" stroke-width="1.3"/>
<path d="M377.5 323.5V353.6" stroke="#222" stroke-width="2.0"/>
<path d="M407.2 298V312.4M407.2 305.3H454.2M454.2 298V312.4" stroke="#2a2a2a" stroke-width="1.05" fill="none"/>
<text transform="translate(415.79,297.18) scale(1.096,1.008)" class="pct" style="font-size:13.99px">5.6%</text>
<path d="M376.4 353.6V277.5H514V353.6" stroke="#1e1e1e" stroke-width="1.25" fill="none"/>
<path d="M373.9 353.6H514" stroke="#111" stroke-width="1.6" fill="none"/>
<path d="M376.4 353.6V358.6M386.76 353.6V356.6M392.81 353.6V356.6M397.11 353.6V356.6M400.44 353.6V356.6M403.17 353.6V356.6M405.47 353.6V356.6M407.47 353.6V356.6M409.23 353.6V356.6M410.8 353.6V358.6M421.16 353.6V356.6M427.21 353.6V356.6M431.51 353.6V356.6M434.84 353.6V356.6M437.57 353.6V356.6M439.87 353.6V356.6M441.87 353.6V356.6M443.63 353.6V356.6M445.2 353.6V358.6M455.56 353.6V356.6M461.61 353.6V356.6M465.91 353.6V356.6M469.24 353.6V356.6M471.97 353.6V356.6M474.27 353.6V356.6M476.27 353.6V356.6M478.03 353.6V356.6M479.6 353.6V358.6M489.96 353.6V356.6M496.01 353.6V356.6M500.31 353.6V356.6M503.64 353.6V356.6M506.37 353.6V356.6M508.67 353.6V356.6M510.67 353.6V356.6M512.43 353.6V356.6M514 353.6V358.6" stroke="#222" stroke-width="1" fill="none"/>
<path d="M374.1 350.67H376.4M374.1 347.75H376.4M374.1 344.82H376.4M374.1 341.89H376.4M372.9 338.97H376.4M374.1 336.04H376.4M374.1 333.11H376.4M374.1 330.18H376.4M374.1 327.26H376.4M372.9 324.33H376.4M374.1 321.4H376.4M374.1 318.48H376.4M374.1 315.55H376.4M374.1 312.62H376.4M372.9 309.7H376.4M374.1 306.77H376.4M374.1 303.84H376.4M374.1 300.92H376.4M374.1 297.99H376.4M372.9 295.06H376.4M374.1 292.13H376.4M374.1 289.21H376.4M374.1 286.28H376.4M374.1 283.35H376.4M372.9 280.43H376.4M374.1 277.5H376.4" stroke="#222" stroke-width="0.9" fill="none"/>
<text transform="translate(371.2,369.95) scale(0.86,1)" class="tl">10<tspan dx="-1.8" dy="-4.45" class="sup">0</tspan></text>
<text transform="translate(405.6,369.95) scale(0.86,1)" class="tl">10<tspan dx="-1.8" dy="-4.45" class="sup">1</tspan></text>
<text transform="translate(440,369.95) scale(0.86,1)" class="tl">10<tspan dx="-1.8" dy="-4.45" class="sup">2</tspan></text>
<text transform="translate(474.4,369.95) scale(0.86,1)" class="tl">10<tspan dx="-1.8" dy="-4.45" class="sup">3</tspan></text>
<text transform="translate(508.8,369.95) scale(0.86,1)" class="tl">10<tspan dx="-1.8" dy="-4.45" class="sup">4</tspan></text>
<text transform="translate(432.8,379.25) scale(0.86,1)" class="fl">FL1-H</text>
</svg>
</body></html>
